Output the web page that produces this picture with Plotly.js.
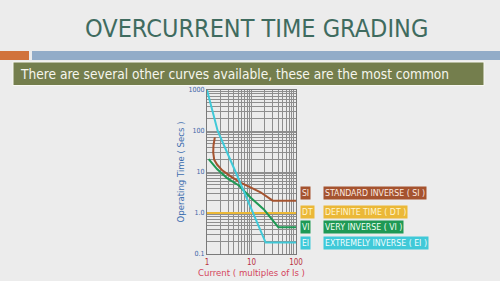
<!DOCTYPE html>
<html>
<head>
<meta charset="utf-8">
<script src="https://cdn.plot.ly/plotly-3.0.1.min.js"></script>
<style>
  html, body { margin: 0; padding: 0; background: #ECECEC; }
  #chart { width: 500px; height: 281px; }
</style>
</head>
<body>
<div id="chart"></div>
<script>
// ---- Data ----
const siX = [1.5, 1.4, 1.38, 1.45, 1.7, 2.2, 3.4, 5.7, 9.5, 16, 30, 100];
const siY = [70, 45, 30, 20, 15, 11, 7.8, 5.5, 4.2, 3.2, 2.0, 2.0];
const dtX = [1, 100];
const dtY = [1.0, 1.0];
const viX = [1.09, 1.68, 2.83, 5.2, 9.5, 19, 40, 100];
const viY = [20.5, 11.8, 7.1, 4.7, 2.4, 1.22, 0.45, 0.45];
const eiX = [1, 1.74, 4.4, 11, 20.8, 100];
const eiY = [1000, 100, 10, 1, 0.19, 0.19];

const seriesCodes = ["SI", "DT", "VI", "EI"];
const seriesNames = ["STANDARD INVERSE ( SI )", "DEFINITE TIME ( DT )", "VERY INVERSE ( VI )", "EXTREMELY INVERSE ( EI )"];

const xTickVals = [1,2,3,4,5,6,7,8,9,10,20,30,40,50,60,70,80,90,100];
const xTickText = xTickVals.map(v => (v === 1 || v === 10 || v === 100) ? String(v) : "");
const yTickVals = [0.1,0.2,0.3,0.4,0.5,0.6,0.7,0.8,0.9,1,2,3,4,5,6,7,8,9,10,20,30,40,50,60,70,80,90,100,200,300,400,500,600,700,800,900,1000];
const yLabels = {0.1: "0.1", 1: "1.0", 10: "10", 100: "100", 1000: "1000"};
const yTickText = yTickVals.map(v => yLabels[v] || "");

const titleText = "OVERCURRENT TIME GRADING";
const subtitleText = "There are several other curves available, these are the most common";

// ---- Style ----
const colors = ["#A5532F", "#EBB837", "#1F9955", "#40C9D8"];
const labelTextColors = ["#FBE9E0", "#FFF5D0", "#F0FFF4", "#F0FDFF"];
const FONT = "DejaVu Sans Condensed, DejaVu Sans, sans-serif";

const W = 500, H = 281;
const M = {l: 207, r: 204, t: 90, b: 27};
const PW = W - M.l - M.r, PH = H - M.t - M.b;
const px = x => (x - M.l) / PW;          // pixel x -> paper x
const py = y => (H - M.b - y) / PH;      // pixel y -> paper y

const traces = [
  {x: siX, y: siY, name: seriesNames[0], line: {color: colors[0], width: 2}},
  {x: dtX, y: dtY, name: seriesNames[1], line: {color: colors[1], width: 2}},
  {x: viX, y: viY, name: seriesNames[2], line: {color: colors[2], width: 2}},
  {x: eiX, y: eiY, name: seriesNames[3], line: {color: colors[3], width: 2}}
].map(t => Object.assign({type: "scatter", mode: "lines", hoverinfo: "skip"}, t));

const annotations = [
  {text: titleText, xref: "paper", yref: "paper", x: px(256), y: py(29),
   xanchor: "center", yanchor: "middle", showarrow: false,
   font: {family: FONT, size: 25, color: "#3F6B5F"}},
  {text: subtitleText, xref: "paper", yref: "paper", x: px(18), y: py(74),
   xanchor: "left", yanchor: "middle", showarrow: false,
   font: {family: FONT, size: 13.6, color: "#F6F6EE"}}
];
const boxY = [193, 211.5, 226.5, 242.5];
seriesCodes.forEach((c, i) => {
  annotations.push({text: c, xref: "paper", yref: "paper", x: px(300), y: py(boxY[i]),
    xanchor: "left", yanchor: "middle", showarrow: false, bgcolor: colors[i], borderpad: 1,
    font: {family: FONT, size: 8.5, color: labelTextColors[i]}});
  annotations.push({text: seriesNames[i], xref: "paper", yref: "paper", x: px(323), y: py(boxY[i]),
    xanchor: "left", yanchor: "middle", showarrow: false, bgcolor: colors[i], borderpad: 1,
    font: {family: FONT, size: 8.7, color: labelTextColors[i]}});
});

const shapes = [
  {type: "rect", xref: "paper", yref: "paper", x0: px(0), x1: px(29), y0: py(51), y1: py(60),
   fillcolor: "#D1733C", line: {width: 0}, layer: "below"},
  {type: "rect", xref: "paper", yref: "paper", x0: px(32), x1: px(500), y0: py(51), y1: py(60),
   fillcolor: "#92ACC8", line: {width: 0}, layer: "below"},
  {type: "rect", xref: "paper", yref: "paper", x0: px(13), x1: px(484), y0: py(62), y1: py(85.5),
   fillcolor: "#747E4D", line: {width: 1, color: "#F8F8F2"}, layer: "below"}
];

const layout = {
  width: W, height: H,
  margin: M,
  paper_bgcolor: "#ECECEC",
  plot_bgcolor: "#ECECEC",
  showlegend: false,
  xaxis: {
    type: "log", range: [0, 2], tickvals: xTickVals, ticktext: xTickText,
    showgrid: true, gridcolor: "#8E8E8E", gridwidth: 1,
    showline: true, mirror: true, linecolor: "#7A7A7A", linewidth: 1,
    zeroline: false, ticks: "", ticklen: 0,
    tickfont: {family: FONT, size: 8, color: "#B8323F"},
    title: {text: "Current ( multiples of Is )", standoff: 2,
            font: {family: FONT, size: 9.5, color: "#D4455C"}}
  },
  yaxis: {
    type: "log", range: [-1, 3], tickvals: yTickVals, ticktext: yTickText,
    showgrid: true, gridcolor: "#8E8E8E", gridwidth: 1,
    showline: true, mirror: true, linecolor: "#7A7A7A", linewidth: 1,
    zeroline: false, ticks: "", ticklen: 0,
    tickfont: {family: FONT, size: 7, color: "#3C68A8"},
    title: {text: "Operating Time ( Secs )", standoff: 2,
            font: {family: FONT, size: 9.5, color: "#3C6EAF"}}
  },
  annotations: annotations,
  shapes: shapes
};

Plotly.newPlot("chart", traces, layout, {staticPlot: true, displayModeBar: false});
</script>
</body>
</html>
